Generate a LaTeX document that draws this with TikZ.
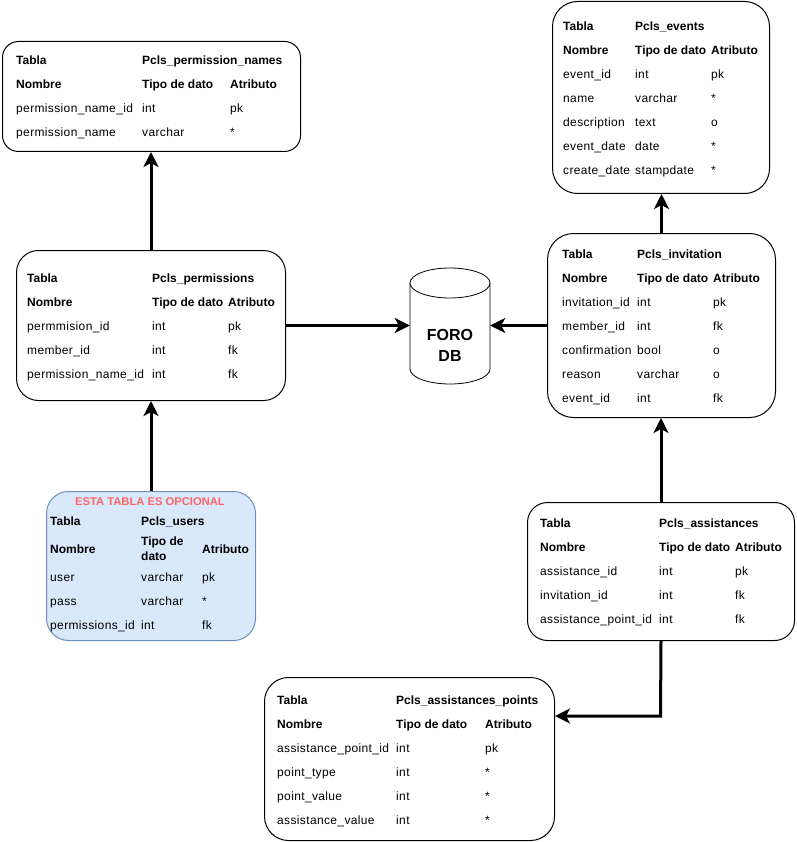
\documentclass[tikz,border=0pt]{standalone}
\usepackage{fontspec}
\setmainfont{Liberation Sans}
\usetikzlibrary{arrows.meta}
\definecolor{optfill}{HTML}{DAE8FC}
\definecolor{optline}{HTML}{6C8EBF}
\definecolor{opttext}{HTML}{FF6666}
\newcommand\rowcells[8]{%
  \node[cell] (#1a) at (#3,#2) {#4};
  \node[cell] (#1b) at (#5,#2) {#6};
  \node[cell] (#1c) at (#7,#2) {#8};}
\newcommand\headcells[8]{%
  \node[hcell] (#1a) at (#3,#2) {#4};
  \node[hcell] (#1b) at (#5,#2) {#6};
  \node[hcell] (#1c) at (#7,#2) {#8};}
\begin{document}
\begin{tikzpicture}[x=1pt,y=-1pt,
  cell/.style={anchor=base west, inner sep=0pt, font=\fontsize{12}{14}\selectfont\addfontfeatures{LetterSpace=3}},
  hcell/.style={anchor=base west, inner sep=0pt, font=\fontsize{12}{14}\selectfont\bfseries},
  tbl/.style={draw=black, line width=1pt, fill=white, anchor=north west, inner sep=0pt},
  arr/.style={line width=3pt, -{Stealth[length=15pt,width=15pt,inset=4pt]}}]
\useasboundingbox (0,0) rectangle (796,842);

% ---------- Pcls_permission_names
\node[tbl, minimum width=298pt, minimum height=110pt, rounded corners=16pt] (pn) at (2,41) {};
\node[hcell] (pnT) at (16,65) {Tabla};
\node[hcell] (pnN) at (142,65) {Pcls\_permission\_names};
\headcells{pnh}{89}{16}{Nombre}{142}{Tipo de dato}{230}{Atributo}
\rowcells{pnr1}{113}{16}{permission\_name\_id}{142}{int}{230}{pk}
\rowcells{pnr2}{137}{16}{permission\_name}{142}{varchar}{230}{*}

% ---------- Pcls_events
\node[tbl, minimum width=217pt, minimum height=192pt, rounded corners=25pt] (ev) at (552,1) {};
\node[hcell] (evT) at (563,31) {Tabla};
\node[hcell] (evN) at (635,31) {Pcls\_events};
\headcells{evh}{55}{563}{Nombre}{635}{Tipo de dato}{711}{Atributo}
\rowcells{evr1}{79}{563}{event\_id}{635}{int}{711}{pk}
\rowcells{evr2}{103}{563}{name}{635}{varchar}{711}{*}
\rowcells{evr3}{127}{563}{description}{635}{text}{711}{o}
\rowcells{evr4}{151}{563}{event\_date}{635}{date}{711}{*}
\rowcells{evr5}{175}{563}{create\_date}{635}{stampdate}{711}{*}

% ---------- Pcls_permissions
\node[tbl, minimum width=269pt, minimum height=150pt, rounded corners=22pt] (pe) at (16,250) {};
\node[hcell] (peT) at (27,282) {Tabla};
\node[hcell] (peN) at (152,282) {Pcls\_permissions};
\headcells{peh}{306}{27}{Nombre}{152}{Tipo de dato}{228}{Atributo}
\rowcells{per1}{330}{27}{permmision\_id}{152}{int}{228}{pk}
\rowcells{per2}{354}{27}{member\_id}{152}{int}{228}{fk}
\rowcells{per3}{378}{27}{permission\_name\_id}{152}{int}{228}{fk}

% ---------- FORO DB cylinder
\node[inner sep=0pt, minimum width=80pt, minimum height=116pt] (db) at (450,326) {};
\draw[line width=0.8pt, fill=white] (410,283) -- (410,369)
  arc[start angle=180, end angle=360, x radius=40pt, y radius=15pt] -- (490,283);
\draw[line width=0.8pt, fill=white] (450,283) ellipse [x radius=40pt, y radius=15pt];
\node[anchor=base, inner sep=0pt, font=\fontsize{16}{20}\selectfont\bfseries] (dbA) at (450,340) {FORO};
\node[anchor=base, inner sep=0pt, font=\fontsize{16}{20}\selectfont\bfseries] (dbB) at (450,361) {DB};

% ---------- Pcls_invitation
\node[tbl, minimum width=228pt, minimum height=184pt, rounded corners=26pt] (inv) at (547,233) {};
\node[hcell] (invT) at (562,258) {Tabla};
\node[hcell] (invN) at (637,258) {Pcls\_invitation};
\headcells{invh}{282}{562}{Nombre}{637}{Tipo de dato}{713}{Atributo}
\rowcells{invr1}{306}{562}{invitation\_id}{637}{int}{713}{pk}
\rowcells{invr2}{330}{562}{member\_id}{637}{int}{713}{fk}
\rowcells{invr3}{354}{562}{confirmation}{637}{bool}{713}{o}
\rowcells{invr4}{378}{562}{reason}{637}{varchar}{713}{o}
\rowcells{invr5}{402}{562}{event\_id}{637}{int}{713}{fk}

% ---------- Pcls_users (optional)
\node[tbl, draw=optline, fill=optfill, minimum width=209pt, minimum height=149pt, rounded corners=22pt] (us) at (46,491) {};
\node[anchor=base, inner sep=0pt, text=opttext, font=\fontsize{11.2}{13}\selectfont\bfseries] (usO) at (150,505) {ESTA TABLA ES OPCIONAL};
\node[hcell] (usT) at (50,525) {Tabla};
\node[hcell] (usN) at (141,525) {Pcls\_users};
\node[hcell] (ush1) at (50,553) {Nombre};
\node[hcell] (ush2) at (141,545) {Tipo de};
\node[hcell] (ush2b) at (141,560) {dato};
\node[hcell] (ush3) at (202,553) {Atributo};
\rowcells{usr1}{581}{50}{user}{141}{varchar}{202}{pk}
\rowcells{usr2}{605}{50}{pass}{141}{varchar}{202}{*}
\rowcells{usr3}{629}{50}{permissions\_id}{141}{int}{202}{fk}

% ---------- Pcls_assistances
\node[tbl, minimum width=267pt, minimum height=138pt, rounded corners=20pt] (as) at (527,502) {};
\node[hcell] (asT) at (540,527) {Tabla};
\node[hcell] (asN) at (659,527) {Pcls\_assistances};
\headcells{ash}{551}{540}{Nombre}{659}{Tipo de dato}{735}{Atributo}
\rowcells{asr1}{575}{540}{assistance\_id}{659}{int}{735}{pk}
\rowcells{asr2}{599}{540}{invitation\_id}{659}{int}{735}{fk}
\rowcells{asr3}{623}{540}{assistance\_point\_id}{659}{int}{735}{fk}

% ---------- Pcls_assistances_points
\node[tbl, minimum width=290pt, minimum height=163pt, rounded corners=24pt] (pt) at (264,677) {};
\node[hcell] (ptT) at (277,704) {Tabla};
\node[hcell] (ptN) at (396,704) {Pcls\_assistances\_points};
\headcells{pth}{728}{277}{Nombre}{396}{Tipo de dato}{485}{Atributo}
\rowcells{ptr1}{752}{277}{assistance\_point\_id}{396}{int}{485}{pk}
\rowcells{ptr2}{776}{277}{point\_type}{396}{int}{485}{*}
\rowcells{ptr3}{800}{277}{point\_value}{396}{int}{485}{*}
\rowcells{ptr4}{824}{277}{assistance\_value}{396}{int}{485}{*}

% ---------- connectors
\draw[arr] (pe.north) -- (pe.north |- pn.south);
\draw[arr] (us.north) -- (us.north |- pe.south);
\draw[arr] (pe.east) -- (pe.east -| db.west);
\draw[arr] (inv.west) -- (inv.west -| db.east);
\draw[arr] (inv.north) -- (inv.north |- ev.south);
\draw[arr] (as.north) -- (as.north |- inv.south);
\coordinate (bend) at (660.5,716);
\draw[arr] (as.south) -- (bend) -- (bend -| pt.east);
\end{tikzpicture}
\end{document}
